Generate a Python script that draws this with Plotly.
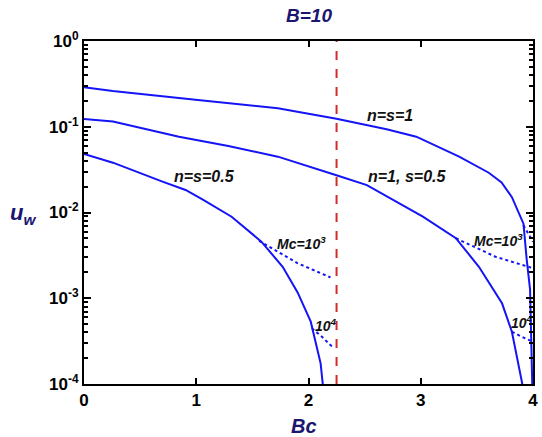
import plotly.graph_objects as go

# Wall velocity u_w versus Bc for B = 10 (log scale)
bc_nss1 = [0, 0.256, 0.993, 1.374, 1.727, 2.249, 2.696, 2.96, 3.342, 3.606, 3.72, 3.812, 3.915, 3.944, 3.974, 3.995]
uw_nss1 = [0.288, 0.261, 0.207, 0.183, 0.164, 0.124, 0.0933, 0.0766, 0.0448, 0.0291, 0.0224, 0.0151, 0.00741, 0.00282, 0.00126, 0.0000794]

bc_n1s05 = [0, 0.258, 0.846, 1.286, 1.727, 2.02, 2.249, 2.52, 2.755, 3.019, 3.313, 3.518, 3.724, 3.812, 3.92]
uw_n1s05 = [0.123, 0.115, 0.0766, 0.0597, 0.0448, 0.0342, 0.0272, 0.0209, 0.0140, 0.00893, 0.00501, 0.00233, 0.000873, 0.000407, 0.0000794]

bc_nss05 = [0, 0.258, 0.699, 0.905, 1.051, 1.315, 1.58, 1.77, 1.903, 2.02, 2.108, 2.135]
uw_nss05 = [0.0481, 0.0381, 0.0229, 0.0183, 0.0143, 0.00893, 0.00457, 0.00233, 0.00117, 0.000533, 0.000174, 0.0000794]

# Finite Mc branches (dotted)
bc_nss1_mc3 = [3.915, 3.96, 4.0]
uw_nss1_mc3 = [0.00708, 0.00562, 0.00457]
bc_n1s05_mc3 = [3.313, 3.665, 4.0]
uw_n1s05_mc3 = [0.00501, 0.00305, 0.00224]
bc_n1s05_mc4 = [3.812, 3.9, 4.0]
uw_n1s05_mc4 = [0.000407, 0.000355, 0.000311]
bc_nss05_mc3 = [1.56, 1.9, 2.196]
uw_nss05_mc3 = [0.00468, 0.00257, 0.00175]
bc_nss05_mc4 = [2.03, 2.12, 2.211]
uw_nss05_mc4 = [0.000447, 0.000355, 0.000272]

bc_critical = 2.25

x_ticks = [0, 1, 2, 3, 4]
y_tick_exps = [0, -1, -2, -3, -4]
y_minor_ticks = [k * 10.0 ** e for e in [-4, -3, -2, -1] for k in range(2, 10)]

BLUE = "#1414F5"
NAVY = "#1B1670"
FONT = "Liberation Sans, Arial, sans-serif"

fig = go.Figure()

for xs, ys in [(bc_nss1, uw_nss1), (bc_n1s05, uw_n1s05), (bc_nss05, uw_nss05)]:
    fig.add_trace(go.Scatter(x=xs, y=ys, mode="lines",
                             line=dict(color=BLUE, width=2), showlegend=False))

for xs, ys in [(bc_nss1_mc3, uw_nss1_mc3), (bc_n1s05_mc3, uw_n1s05_mc3),
               (bc_n1s05_mc4, uw_n1s05_mc4), (bc_nss05_mc3, uw_nss05_mc3),
               (bc_nss05_mc4, uw_nss05_mc4)]:
    fig.add_trace(go.Scatter(x=xs, y=ys, mode="lines",
                             line=dict(color=BLUE, width=2, dash="dot"), showlegend=False))

# invisible trace that carries the overlay axis used for the minor ticks
fig.add_trace(go.Scatter(x=[None], y=[None], yaxis="y2", showlegend=False, hoverinfo="skip"))

fig.add_shape(type="line", xref="x", yref="paper", x0=bc_critical, x1=bc_critical,
              y0=0, y1=1, line=dict(color="#D42A2A", width=2, dash="dash"))

labels = [
    ("n=s=1", 2.73, -0.863, 16),
    ("n=1, s=0.5", 2.88, -1.583, 16),
    ("n=s=0.5", 1.075, -1.583, 16),
    ("Mc=10<sup>3</sup>", 1.938, -2.352, 14),
    ("Mc=10<sup>3</sup>", 3.69, -2.32, 14),
    ("10<sup>4</sup>", 2.159, -3.312, 14),
    ("10<sup>4</sup>", 3.903, -3.273, 14),
]
for text, x, y, size in labels:
    fig.add_annotation(x=x, y=y, xref="x", yref="y", text=f"<b><i>{text}</i></b>",
                       showarrow=False, font=dict(family=FONT, size=size, color="#111111"))

fig.add_annotation(x=0.5, y=(384 - 15) / 343, xref="paper", yref="paper",
                   xanchor="center", yanchor="middle", text="<b><i>B=10</i></b>",
                   showarrow=False, font=dict(family=FONT, size=19, color=NAVY))
fig.add_annotation(x=0.49, y=(384 - 426) / 343, xref="paper", yref="paper",
                   xanchor="center", yanchor="middle", text="<b><i>Bc</i></b>",
                   showarrow=False, font=dict(family=FONT, size=20, color=NAVY))
fig.add_annotation(x=(22 - 84) / 454, y=(384 - 214) / 343, xref="paper", yref="paper",
                   xanchor="center", yanchor="middle", text="<b><i>u<sub>w</sub></i></b>",
                   showarrow=False, font=dict(family=FONT, size=22, color=NAVY))

fig.update_xaxes(range=[0, 4], tickvals=x_ticks, ticktext=[f"<b>{v}</b>" for v in x_ticks],
                 ticks="inside", ticklen=6, tickwidth=2, tickcolor="black",
                 showline=True, linecolor="black", linewidth=2, mirror="ticks",
                 showgrid=False, zeroline=False,
                 tickfont=dict(family=FONT, size=17, color="black"))

fig.update_layout(
    yaxis=dict(type="log", range=[-4, 0], tickvals=[10 ** e for e in y_tick_exps],
               ticktext=[f"<b>10<sup>{e}</sup></b>" for e in y_tick_exps],
               ticks="inside", ticklen=7, tickwidth=2, tickcolor="black",
               showline=True, linecolor="black", linewidth=2, mirror="ticks",
               showgrid=False, zeroline=False,
               tickfont=dict(family=FONT, size=17, color="black")),
    yaxis2=dict(type="log", range=[-4, 0], overlaying="y", side="left",
                tickvals=y_minor_ticks, showticklabels=False,
                ticks="inside", ticklen=4, tickwidth=1.6, tickcolor="black",
                showline=False, mirror="ticks", showgrid=False, zeroline=False),
    width=542, height=437, margin=dict(l=84, r=4, t=41, b=53),
    plot_bgcolor="white", paper_bgcolor="white",
)

fig.write_html("out.html")
